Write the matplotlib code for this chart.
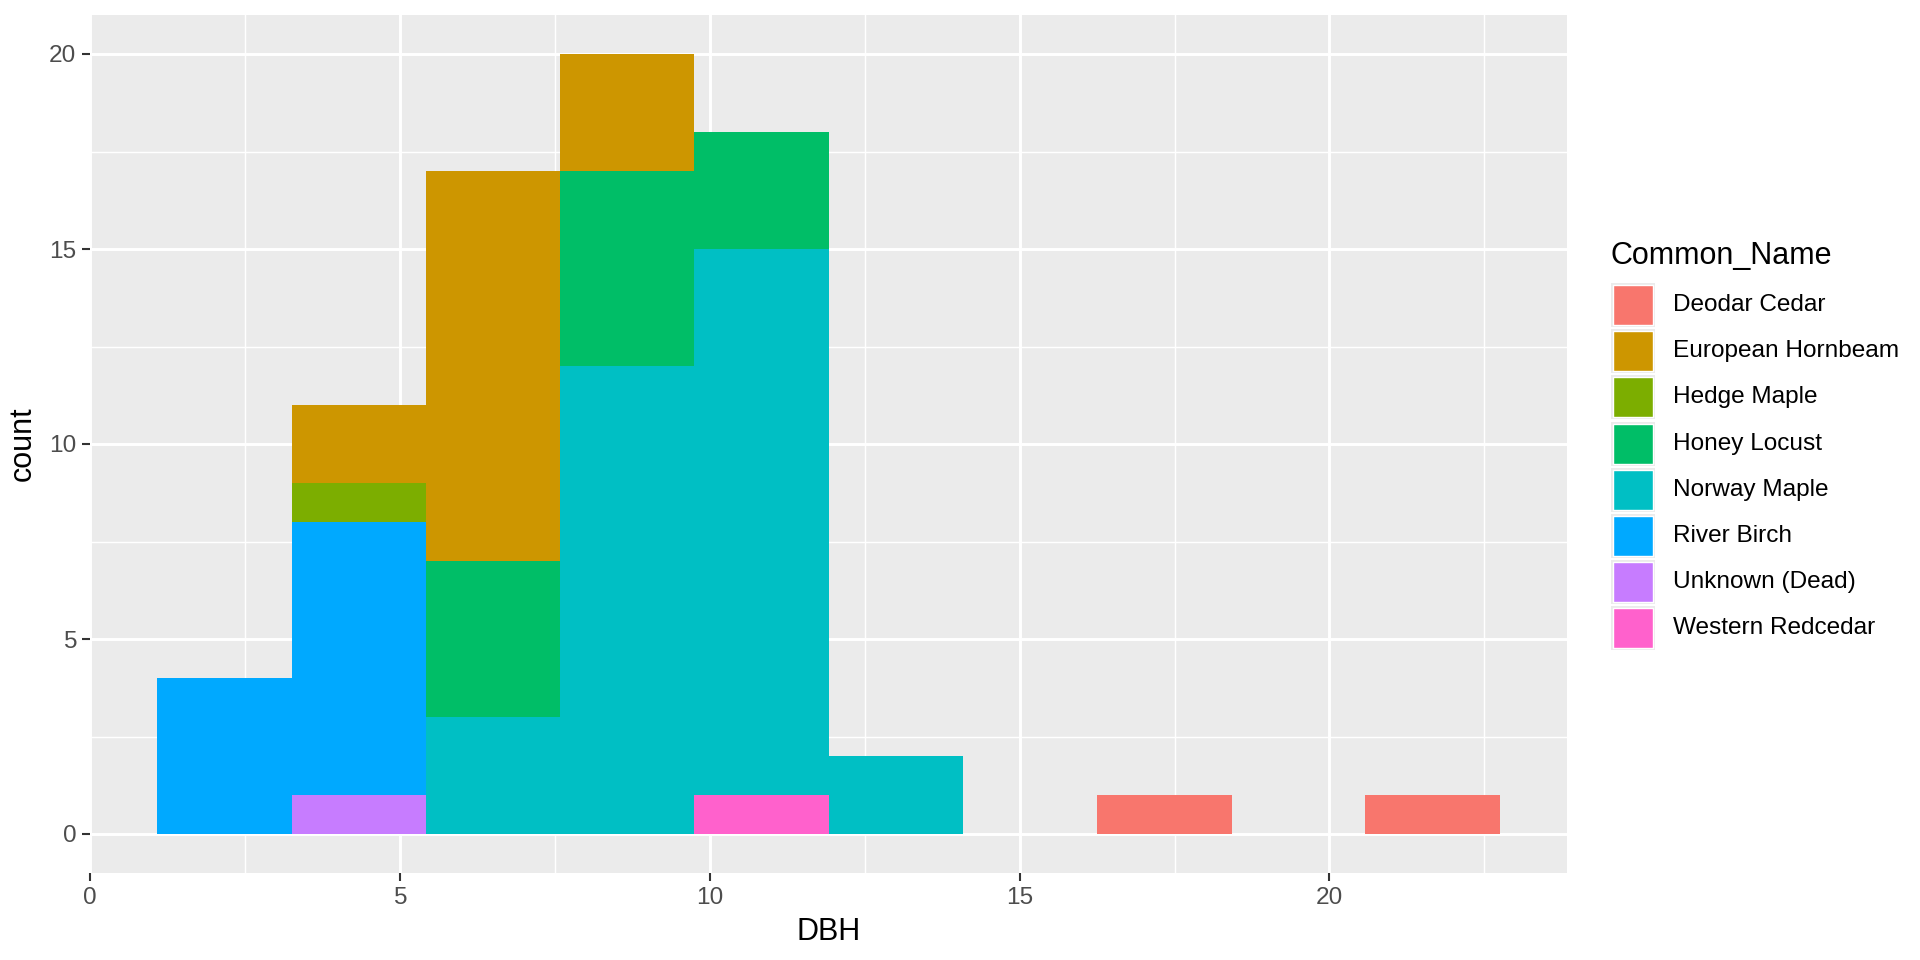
import matplotlib
matplotlib.use("Agg")
import matplotlib.pyplot as plt
from matplotlib.patches import Rectangle
import numpy as np

plt.rcParams['font.family'] = ['Liberation Sans', 'DejaVu Sans']

# Bin edges of the DBH histogram (10 bins)
bin_edges = [1.08, 3.25, 5.42, 7.58, 9.75, 11.92, 14.08, 16.25, 18.42, 20.58, 22.75]

species = ["Deodar Cedar", "European Hornbeam", "Hedge Maple", "Honey Locust",
           "Norway Maple", "River Birch", "Unknown (Dead)", "Western Redcedar"]
colors = ["#F8766D", "#CD9600", "#7CAE00", "#00BE67",
          "#00BFC4", "#00A9FF", "#C77CFF", "#FF61CC"]

deodar_cedar      = [0, 0, 0, 0, 0, 0, 0, 1, 0, 1]
european_hornbeam = [0, 2, 10, 3, 0, 0, 0, 0, 0, 0]
hedge_maple       = [0, 1, 0, 0, 0, 0, 0, 0, 0, 0]
honey_locust      = [0, 0, 4, 5, 3, 0, 0, 0, 0, 0]
norway_maple      = [0, 0, 3, 12, 14, 2, 0, 0, 0, 0]
river_birch       = [4, 7, 0, 0, 0, 0, 0, 0, 0, 0]
unknown_dead      = [0, 1, 0, 0, 0, 0, 0, 0, 0, 0]
western_redcedar  = [0, 0, 0, 0, 1, 0, 0, 0, 0, 0]

counts = [deodar_cedar, european_hornbeam, hedge_maple, honey_locust,
          norway_maple, river_birch, unknown_dead, western_redcedar]

W, H, DPI = 1920, 960, 200
fig = plt.figure(figsize=(W / DPI, H / DPI), dpi=DPI)
L, R, T, B = 90, 1567, 15, 873
ax = fig.add_axes([L / W, 1 - B / H, (R - L) / W, (B - T) / H])
ax.set_facecolor("#EBEBEB")

edges = np.array(bin_edges)
lefts = edges[:-1]
widths = np.diff(edges)
bottom = np.zeros(len(lefts))
# stack: last level at the bottom, first level on top (ggplot order)
for name, col, vals in reversed(list(zip(species, colors, counts))):
    v = np.array(vals, dtype=float)
    ax.bar(lefts, v, width=widths, bottom=bottom, align="edge",
           color=col, edgecolor="none", linewidth=0, zorder=3)
    bottom += v

xmin_d, xmax_d = edges[0], edges[-1]
xr = xmax_d - xmin_d
ax.set_xlim(xmin_d - 0.05 * xr, xmax_d + 0.05 * xr)
ymax = bottom.max()
ax.set_ylim(-0.05 * ymax, ymax * 1.05)

xt = [0, 5, 10, 15, 20]
yt = [0, 5, 10, 15, 20]
ax.set_xticks(xt)
ax.set_yticks(yt)
ax.set_xticks([2.5, 7.5, 12.5, 17.5, 22.5], minor=True)
ax.set_yticks([2.5, 7.5, 12.5, 17.5], minor=True)
ax.grid(which="major", color="white", linewidth=1.07, zorder=1)
ax.grid(which="minor", color="white", linewidth=0.53, zorder=1)
ax.set_axisbelow(True)
for s in ax.spines.values():
    s.set_visible(False)
ax.tick_params(which="major", length=2.75, width=0.75, color="#333333",
               labelsize=8.8, labelcolor="#4D4D4D", pad=2.2)
ax.tick_params(which="minor", length=0)

ax.set_xlabel("DBH", fontsize=11, color="black", labelpad=3)
ax.set_ylabel("count", fontsize=11, color="black", labelpad=4)

# Legend drawn manually in figure pixel coordinates
def fx(x):
    return x / W

def fy(y):
    return 1 - y / H

fig.text(fx(1611), fy(256), "Common_Name", fontsize=11, ha="left", va="center")
key_left, key_size, key_step, key_top = 1611, 44, 46.2, 283
for i, (name, col) in enumerate(zip(species, colors)):
    top = key_top + i * key_step
    fig.patches.append(Rectangle((fx(key_left), fy(top + key_size)),
                                 key_size / W, key_size / H,
                                 transform=fig.transFigure,
                                 facecolor="#EBEBEB", edgecolor="none"))
    fig.patches.append(Rectangle((fx(key_left + 2), fy(top + key_size - 2)),
                                 (key_size - 4) / W, (key_size - 4) / H,
                                 transform=fig.transFigure,
                                 facecolor=col, edgecolor="white", linewidth=0.5))
    fig.text(fx(1673), fy(top + key_size / 2), name, fontsize=8.8,
             ha="left", va="center")

fig.savefig("out.png", dpi=DPI, facecolor="white")
